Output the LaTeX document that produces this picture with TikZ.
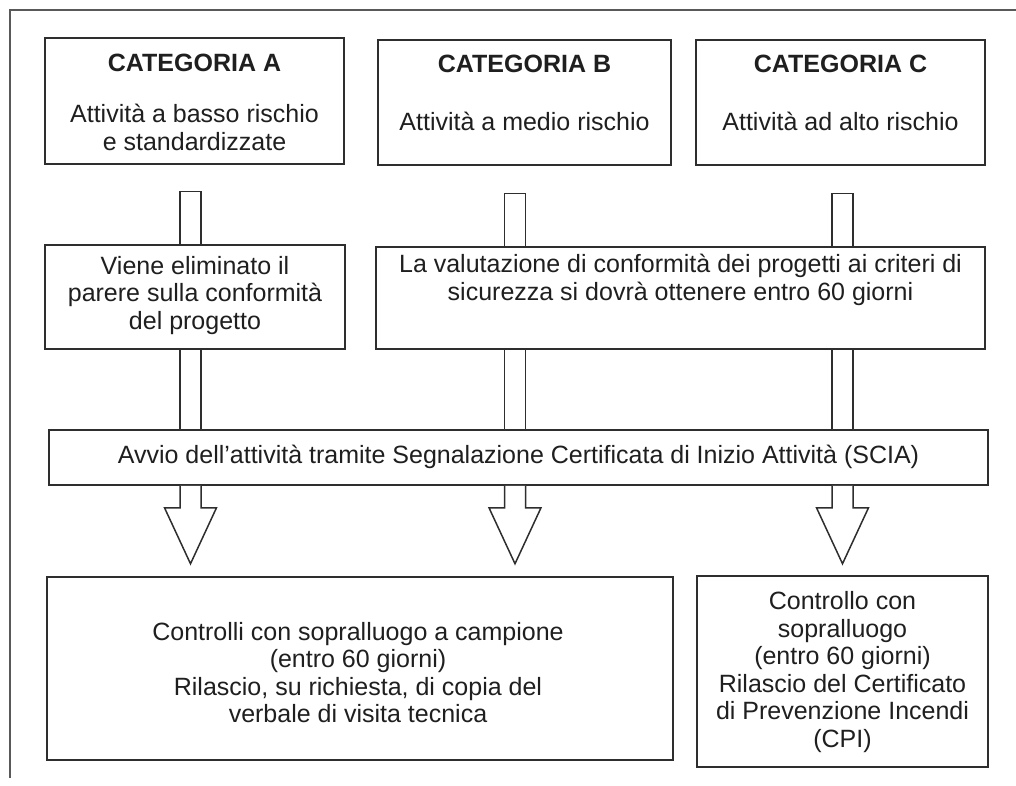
\documentclass[tikz,border=0pt]{standalone}
\usepackage{fontspec}
\setmainfont{Liberation Sans}
\begin{document}
\begin{tikzpicture}[x=1pt,y=-1pt,
  box/.style={draw=black!82, line width=1.5pt, fill=white, inner sep=0pt},
  txt/.style={align=center, anchor=base, inner sep=0pt, text=black!88, font=\fontsize{25}{27.5}\selectfont},
  ttl/.style={txt, font=\fontsize{25}{27.5}\selectfont\bfseries},
  arr/.style={draw=black!82, line width=1.5pt, fill=white, line join=miter},
  frame/.style={draw=black!65, line width=1.2pt}]
\useasboundingbox (0,0) rectangle (1016,785);
% outer frame (top and left sides only)
\coordinate (fTL) at (10,10);
\coordinate (fTR) at (1016,10);
\coordinate (fBL) at (10,778);
\draw[frame] (fTR) -- (fTL) -- (fBL);

% column axes
\coordinate (xA) at (190.5,0);
\coordinate (xB) at (515,0);
\coordinate (xC) at (842.5,0);

% top boxes
\node[box, minimum width=299pt, minimum height=126pt] (A) at (194.5,101) {};
\node[box, minimum width=293pt, minimum height=125pt] (B) at (524.5,102.5) {};
\node[box, minimum width=289pt, minimum height=125pt] (C) at (840.5,102.5) {};
\node[ttl] (At) at (194.5,71) {CATEGORIA A};
\node[txt] (Ab) at (194.5,150) {Attività a basso rischio\\e standardizzate};
\node[ttl] (Bt) at (524.5,72) {CATEGORIA B};
\node[txt] (Bb) at (524.5,130) {Attività a medio rischio};
\node[ttl] (Ct) at (840.5,72) {CATEGORIA C};
\node[txt] (Cb) at (840.5,130) {Attività ad alto rischio};

% second row
\node[box, minimum width=300pt, minimum height=104pt] (A2) at (195,297) {};
\node[txt] (A2t) at (195,329) {Viene eliminato il\\parere sulla conformità\\del progetto};
\node[box, minimum width=609pt, minimum height=102pt] (BC) at (680.5,298) {};
\node[txt] (BCt) at (680.5,300) {La valutazione di conformità dei progetti ai criteri di\\sicurezza si dovrà ottenere entro 60 giorni};

% SCIA
\node[box, minimum width=939pt, minimum height=55pt] (S) at (518.5,457.5) {};
\node[txt] (St) at (518.5,463) {Avvio dell’attività tramite Segnalazione Certificata di Inizio Attività (SCIA)};

% bottom boxes
\node[box, minimum width=626pt, minimum height=183pt] (L) at (360,668.5) {};
\node[txt] (Lt) at (358,722.5) {Controlli con sopralluogo a campione\\(entro 60 giorni)\\Rilascio, su richiesta, di copia del\\verbale di visita tecnica};
\node[box, minimum width=291pt, minimum height=191pt] (R) at (842.5,671.5) {};
\node[txt] (Rt) at (842.5,747) {Controllo con\\sopralluogo\\(entro 60 giorni)\\Rilascio del Certificato\\di Prevenzione Incendi\\(CPI)};

% upper stems (closed top, free end)
\foreach \c/\t in {xA/A2, xB/BC, xC/BC}{
  \draw[arr] ([xshift=-10.5pt]\c |- \t.north) -- ++(0,-53) -- ++(21,0) -- ([xshift=10.5pt]\c |- \t.north);
}
% middle stems
\draw[arr] ([xshift=-10.5pt]xA |- A2.south) -- ([xshift=-10.5pt]xA |- S.north);
\draw[arr] ([xshift=10.5pt]xA |- A2.south) -- ([xshift=10.5pt]xA |- S.north);
\draw[arr] ([xshift=-10.5pt]xB |- BC.south) -- ([xshift=-10.5pt]xB |- S.north);
\draw[arr] ([xshift=10.5pt]xB |- BC.south) -- ([xshift=10.5pt]xB |- S.north);
\draw[arr] ([xshift=-10.5pt]xC |- BC.south) -- ([xshift=-10.5pt]xC |- S.north);
\draw[arr] ([xshift=10.5pt]xC |- BC.south) -- ([xshift=10.5pt]xC |- S.north);

% block arrows below SCIA
\foreach \c in {xA, xB, xC}{
  \draw[arr] ([xshift=-10.5pt]\c |- S.south) -- ++(0,22) -- ++(-15.5,0) -- ++(26,56) -- ++(26,-56) -- ++(-15.5,0) -- ([xshift=10.5pt]\c |- S.south);
}
\end{tikzpicture}
\end{document}
